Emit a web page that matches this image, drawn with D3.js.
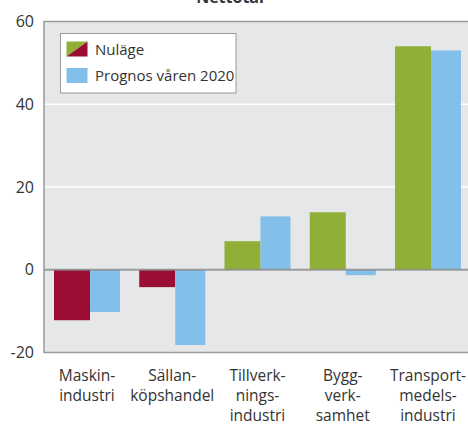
<!DOCTYPE html>
<html><head><meta charset="utf-8">
<script src="https://cdn.jsdelivr.net/npm/d3@7/dist/d3.min.js"></script>
<style>body{margin:0;background:#fff;}svg{display:block;}</style>
</head><body>
<svg id="c" width="468" height="425"></svg>
<script>
const categories = [["Maskin-","industri"],["Sällan-","köpshandel"],["Tillverk-","nings-","industri"],["Bygg-","verk-","samhet"],["Transport-","medels-","industri"]];
const nulage = [-12.2, -4.2, 6.9, 13.9, 54.0];
const prognos = [-10.2, -18.2, 12.9, -1.3, 53.0];
const yTicks = [-20, 0, 20, 40, 60];
const seriesNames = ["Nuläge", "Prognos våren 2020"];
const title = "Nettotal";

const svg = d3.select("#c");
const font = "'Open Sans', 'Noto Sans', sans-serif";
const L = 44, R = 470.25, T = 21.5, B = 352.5;
const red = "#9a0e36", green = "#8faf36", blue = "#82bfea";

const x = d3.scaleBand().domain(d3.range(categories.length)).range([L, R]).padding(0);
const y = d3.scaleLinear().domain([-20, 60]).range([B, T]);
const bw = x.bandwidth();

svg.append("rect").attr("x", L).attr("y", T).attr("width", 468 - L).attr("height", B - T).attr("fill", "#e6e7e9");

// gridlines
svg.append("g").selectAll("line").data(yTicks.filter(t => t !== 0 && t !== -20 && t !== 60)).join("line")
  .attr("x1", L).attr("x2", 468).attr("y1", d => y(d)).attr("y2", d => y(d))
  .attr("stroke", "#fff").attr("stroke-width", 1.5);

// bars
const g = svg.append("g");
g.selectAll("rect.a").data(nulage).join("rect").attr("class", "a")
  .attr("x", (d, i) => x(i) + bw * 0.1173)
  .attr("width", bw * 0.4223)
  .attr("y", d => y(Math.max(0, d)))
  .attr("height", d => Math.abs(y(d) - y(0)))
  .attr("fill", d => d < 0 ? red : green);
g.selectAll("rect.b").data(prognos).join("rect").attr("class", "b")
  .attr("x", (d, i) => x(i) + bw * 0.5396)
  .attr("width", bw * 0.352)
  .attr("y", d => y(Math.max(0, d)))
  .attr("height", d => Math.abs(y(d) - y(0)))
  .attr("fill", blue);

// zero line
svg.append("line").attr("x1", L).attr("x2", 468).attr("y1", y(0)).attr("y2", y(0))
  .attr("stroke", "#8a8a8a").attr("stroke-opacity", 0.8).attr("stroke-width", 2);

// frame
svg.append("path").attr("d", `M468,${T}H${L}V${B}H468`).attr("fill", "none")
  .attr("stroke", "#9a9a9a").attr("stroke-width", 1.5);

// y axis labels
const yAxis = d3.axisLeft(y).tickValues(yTicks).tickSize(0).tickPadding(10).tickFormat(d => String(d));
const ya = svg.append("g").attr("transform", `translate(${L},0)`).call(yAxis);
ya.select(".domain").remove();
ya.selectAll("text").attr("font-family", font).attr("font-size", 16).attr("fill", "#333");

// x labels
const xl = svg.append("g");
categories.forEach((lines, i) => {
  const cx = x(i) + bw * 0.1173 + bw * (0.4223 + 0.352) / 2;
  const t = xl.append("text").attr("x", cx).attr("y", 381).attr("text-anchor", "middle")
    .attr("font-family", font).attr("font-size", 15.5).attr("fill", "#333");
  lines.forEach((ln, j) => t.append("tspan").attr("x", cx).attr("dy", j === 0 ? 0 : 20).text(ln));
});

// title (clipped at top, as in the reference)
svg.append("text").attr("x", 230).attr("y", 3).attr("text-anchor", "middle")
  .attr("font-family", font).attr("font-size", 16).attr("font-weight", "bold").attr("fill", "#333").text(title);

// legend
const lg = svg.append("g");
lg.append("rect").attr("x", 60.5).attr("y", 33.5).attr("width", 175.5).attr("height", 59.5)
  .attr("fill", "#fff").attr("stroke", "#9a9a9a").attr("stroke-width", 1);
const sx = 66.5, sw = 21, sh = 15;
const s1 = 41.5, s2 = 68;
lg.append("path").attr("d", `M${sx},${s1}h${sw}L${sx},${s1 + sh}Z`).attr("fill", green);
lg.append("path").attr("d", `M${sx + sw},${s1}v${sh}h${-sw}Z`).attr("fill", red);
lg.append("rect").attr("x", sx).attr("y", s2).attr("width", sw).attr("height", sh).attr("fill", blue);
lg.selectAll("text").data(seriesNames).join("text")
  .attr("x", 95).attr("y", (d, i) => (i === 0 ? s1 : s2) + sh / 2 + 5.5)
  .attr("font-family", font).attr("font-size", 15).attr("fill", "#333").text(d => d);
</script>
</body></html>
